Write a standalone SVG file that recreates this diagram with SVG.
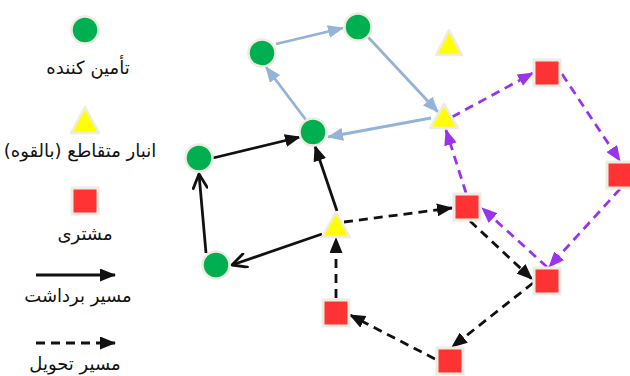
<svg xmlns="http://www.w3.org/2000/svg" width="630" height="376" viewBox="0 0 630 376">
<style>
.lbl{font-family:"DejaVu Sans","Noto Sans",sans-serif;font-size:18px;fill:#111;text-anchor:middle;direction:rtl;unicode-bidi:embed}
.g{fill:#00B050;stroke:#EEECE1;stroke-width:2.5}
.y{fill:#FFFF00;stroke:#EEECE1;stroke-width:2.5;stroke-linejoin:round}
.r{fill:#FF3333;stroke:#EEECE1;stroke-width:3}
.bk{stroke:#111;stroke-width:2.8;fill:none}
.bl{stroke:#95B3D7;stroke-width:2.8;fill:none}
.pu{stroke:#9933EE;stroke-width:2.8;fill:none}
.d{stroke-dasharray:9,6}
</style>
<defs>
<marker id="ak" viewBox="0 0 16 13" refX="15" refY="6.5" markerWidth="16" markerHeight="13" markerUnits="userSpaceOnUse" orient="auto"><path d="M0,0 L16,6.5 L0,13 z" fill="#111"/></marker>
<marker id="ab" viewBox="0 0 16 13" refX="15" refY="6.5" markerWidth="16" markerHeight="13" markerUnits="userSpaceOnUse" orient="auto"><path d="M0,0 L16,6.5 L0,13 z" fill="#95B3D7"/></marker>
<marker id="ap" viewBox="0 0 16 13" refX="15" refY="6.5" markerWidth="16" markerHeight="13" markerUnits="userSpaceOnUse" orient="auto"><path d="M0,0 L16,6.5 L0,13 z" fill="#9933EE"/></marker>
<marker id="ao" viewBox="0 0 18 16" refX="16" refY="8" markerWidth="18" markerHeight="16" markerUnits="userSpaceOnUse" orient="auto"><path d="M2,1 L16,8 L2,15" fill="none" stroke="#111" stroke-width="2.8" stroke-linecap="round" stroke-linejoin="round"/></marker>
</defs>

<g id="legend">
  <circle class="g" cx="85" cy="30" r="13.5"/>
  <text class="lbl" x="88" y="74">تأمین کننده</text>
  <polygon class="y" points="85,107 71,133 99,133"/>
  <text class="lbl" x="80" y="157">انبار متقاطع (بالقوه)</text>
  <rect class="r" x="72" y="188" width="26" height="26"/>
  <text class="lbl" x="85" y="240">مشتری</text>
  <line class="bk" x1="36" y1="275" x2="115" y2="275" marker-end="url(#ak)"/>
  <text class="lbl" x="78" y="302">مسیر برداشت</text>
  <line class="bk d" x1="36" y1="343" x2="115" y2="343" marker-end="url(#ak)"/>
  <text class="lbl" x="75" y="370">مسیر تحویل</text>
</g>

<g id="connectors">
  <line class="bl" x1="276" y1="44" x2="343" y2="28" marker-end="url(#ab)"/>
  <line class="bl" x1="368" y1="37" x2="438" y2="112" marker-end="url(#ab)"/>
  <line class="bl" x1="431" y1="118" x2="328" y2="137" marker-end="url(#ab)"/>
  <line class="bl" x1="306" y1="120" x2="266" y2="67" marker-end="url(#ab)"/>

  <line class="bk" x1="213" y1="158" x2="300" y2="137" marker-end="url(#ak)"/>
  <line class="bk" x1="337" y1="211" x2="315" y2="146" marker-end="url(#ak)"/>
  <line class="bk" x1="206" y1="253" x2="199" y2="174" marker-end="url(#ao)"/>
  <line class="bk" x1="322" y1="234" x2="232" y2="265" marker-end="url(#ao)"/>

  <line class="bk d" x1="344" y1="222" x2="452" y2="208" marker-end="url(#ak)"/>
  <line class="bk d" x1="336" y1="298" x2="336" y2="238" marker-end="url(#ak)"/>
  <line class="bk d" x1="470" y1="221" x2="532" y2="279" marker-end="url(#ak)"/>
  <line class="bk d" x1="533" y1="283" x2="452" y2="347" marker-end="url(#ak)"/>
  <line class="bk d" x1="435" y1="359" x2="350" y2="315" marker-end="url(#ak)"/>

  <line class="pu d" x1="452" y1="117" x2="533" y2="73" marker-end="url(#ap)"/>
  <line class="pu d" x1="562" y1="74" x2="620" y2="161" marker-end="url(#ap)"/>
  <line class="pu d" x1="620" y1="189" x2="549" y2="267" marker-end="url(#ap)"/>
  <line class="pu d" x1="547" y1="267" x2="482" y2="208" marker-end="url(#ap)"/>
  <line class="pu d" x1="466" y1="193" x2="446" y2="130" marker-end="url(#ap)"/>
</g>

<g id="G1"><circle class="g" cx="262" cy="53" r="13.5"/></g>
<g id="G2"><circle class="g" cx="358" cy="27" r="13.5"/></g>
<g id="G3"><circle class="g" cx="313" cy="132" r="13.5"/></g>
<g id="G4"><circle class="g" cx="199" cy="158" r="13.5"/></g>
<g id="G5"><circle class="g" cx="216" cy="265" r="13.5"/></g>

<g id="T1"><polygon class="y" points="449,30 436,55 462,55"/></g>
<g id="T2"><polygon class="y" points="444,104 430,128 458,128"/></g>
<g id="T3"><polygon class="y" points="336,212 322,237 350,237"/></g>

<g id="S1"><rect class="r" x="534" y="60" width="26" height="26"/></g>
<g id="S2"><rect class="r" x="607" y="162" width="26" height="26"/></g>
<g id="S3"><rect class="r" x="454" y="194" width="26" height="26"/></g>
<g id="S4"><rect class="r" x="534" y="268" width="26" height="26"/></g>
<g id="S5"><rect class="r" x="323" y="300" width="26" height="26"/></g>
<g id="S6"><rect class="r" x="437" y="348" width="26" height="26"/></g>
</svg>
